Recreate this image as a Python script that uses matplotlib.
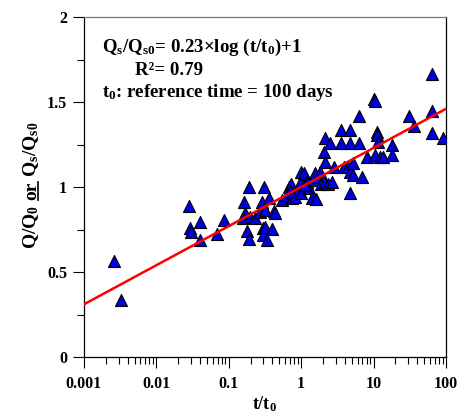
import numpy as np
import matplotlib
matplotlib.use("Agg")
import matplotlib.pyplot as plt
from matplotlib.ticker import LogLocator, MultipleLocator, FuncFormatter
from matplotlib.lines import Line2D

# ---- data ----
t_ratio = [0.00262, 0.00324, 0.0285, 0.0291, 0.030, 0.040, 0.040, 0.0695, 0.085,
           0.160, 0.167, 0.159, 0.177, 0.188, 0.190, 0.195, 0.230, 0.268, 0.285,
           0.310, 0.300, 0.300, 0.320, 0.336, 0.315, 0.363, 0.400, 0.420, 0.430,
           0.537, 0.630, 0.685, 0.720, 0.740, 0.780, 0.830, 0.890, 1.01, 1.07,
           1.01, 1.09, 1.19, 1.30, 1.40, 1.43, 1.61, 1.56, 1.73, 1.88, 2.14,
           2.04, 2.10, 2.16, 2.49, 2.33, 2.63, 2.86, 3.52, 3.52, 3.95, 4.66,
           4.66, 4.50, 4.66, 4.76, 5.2, 5.2, 6.35, 6.35, 6.84, 8.0, 10.2, 10.4,
           10.6, 11.0, 11.3, 11.4, 12.4, 13.6, 17.8, 17.8, 31.2, 36.0, 63.4,
           63.4, 63.4, 91.8, 0.70, 0.95, 1.12, 1.80]
q_ratio = [0.567, 0.337, 0.890, 0.761, 0.738, 0.796, 0.689, 0.722, 0.806,
           0.910, 0.845, 0.816, 0.742, 0.998, 0.693, 0.826, 0.816, 0.855, 0.914,
           0.998, 0.757, 0.718, 0.767, 0.689, 0.865, 0.933, 0.751, 0.861, 0.845,
           0.924, 0.953, 1.002, 1.020, 0.933, 0.963, 0.943, 0.982, 1.090, 1.020,
           0.963, 1.080, 1.030, 0.992, 1.040, 0.933, 0.930, 1.080, 1.060, 1.020, 1.030,
           1.207, 1.290, 1.149, 1.260, 1.020, 1.030, 1.120, 1.335, 1.256, 1.120, 1.335,
           1.256, 1.120, 1.090, 0.963, 1.139, 1.070, 1.417, 1.256, 1.060, 1.178, 1.520, 1.507,
           1.188, 1.325, 1.305, 1.266, 1.178, 1.178, 1.247, 1.188, 1.417, 1.358, 1.667,
           1.448, 1.319, 1.290, 0.975, 1.025, 1.010, 1.090]
fit_slope = 0.23
fit_intercept = 1.0
x_ticks = [0.001, 0.01, 0.1, 1, 10, 100]
x_tick_labels = ["0.001", "0.01", "0.1", "1", "10", "100"]
y_ticks = [0, 0.5, 1, 1.5, 2]
y_tick_labels = ["0", "0.5", "1", "1.5", "2"]
y_label_parts = [r"Q/Q$_0$", "or", r"Q$_s$/Q$_{s0}$"]

plt.rcParams['font.family'] = ['Liberation Serif', 'DejaVu Serif']
plt.rcParams['font.weight'] = 'bold'
plt.rcParams['mathtext.fontset'] = 'custom'
plt.rcParams['mathtext.rm'] = 'Liberation Serif:bold'
plt.rcParams['mathtext.it'] = 'Liberation Serif:bold'
plt.rcParams['mathtext.bf'] = 'Liberation Serif:bold'

W, H = 465, 412
fig = plt.figure(figsize=(W / 100, H / 100), dpi=100)
ax = fig.add_axes([0.1806, 0.1335, 0.7785, 0.8252])

ax.scatter(t_ratio, q_ratio, marker='^', s=75, facecolor='#0000e0',
           edgecolor='black', linewidth=0.8, zorder=3)

xl = np.array([0.001, 100.0])
ax.plot(xl, fit_slope * np.log10(xl) + fit_intercept, color='red', lw=1.8, zorder=4)

ax.set_xscale('log')
ax.set_xlim(0.001, 100)
ax.set_ylim(0, 2)
ax.set_xticks(x_ticks)
ax.set_xticklabels(x_tick_labels)
ax.xaxis.set_minor_locator(LogLocator(base=10, subs=np.arange(2, 10)))
ax.xaxis.set_minor_formatter(FuncFormatter(lambda v, p: ""))
ax.set_yticks(y_ticks)
ax.set_yticklabels(y_tick_labels)
ax.yaxis.set_minor_locator(MultipleLocator(0.25))

ax.tick_params(which='major', direction='out', length=8, width=0.8, labelsize=11.5, pad=4)
ax.tick_params(which='minor', direction='out', length=5, width=0.8)
ax.tick_params(axis='x', which='major', pad=6)
for sp in ax.spines.values():
    sp.set_linewidth(0.9)
ax.spines['top'].set_color('#777777')

ax.set_xlabel(r"t/t$_0$", fontsize=13, fontweight='bold', labelpad=1)

fs_ann = 13.6
ax.text(0.05, 0.898, r"Q$_s$/Q$_{s0}$= 0.23×log (t/t$_0$)+1", transform=ax.transAxes,
        fontsize=fs_ann, fontweight='bold', va='baseline')
ax.text(0.141, 0.829, r"R²= 0.79", transform=ax.transAxes,
        fontsize=fs_ann, fontweight='bold', va='baseline')
ax.text(0.05, 0.766, r"t$_0$: reference time = 100 days", transform=ax.transAxes,
        fontsize=fs_ann, fontweight='bold', va='baseline')

# y label built from pieces so that "or" can be underlined
fs_lab = 14
fig.canvas.draw()
r = fig.canvas.get_renderer()

def text_width(s):
    t = fig.text(0, 0, s, fontsize=fs_lab, fontweight='bold')
    w = t.get_window_extent(r).width
    t.remove()
    return w

space = text_width("a a") - text_width("aa")
base_x = 36.0           # baseline x in pixels
y_pos = H - 249.0        # bottom start in pixels (from bottom)
for part in y_label_parts:
    w = text_width(part)
    fig.text(base_x / W, y_pos / H, part, fontsize=fs_lab, fontweight='bold',
             rotation=90, rotation_mode='anchor', ha='left', va='baseline')
    if part == "or":
        fig.add_artist(Line2D([(base_x + 1.8) / W] * 2,
                              [y_pos / H, (y_pos + w) / H],
                              color='black', lw=1.2))
    y_pos += w + space

fig.savefig("out.png", dpi=100)
